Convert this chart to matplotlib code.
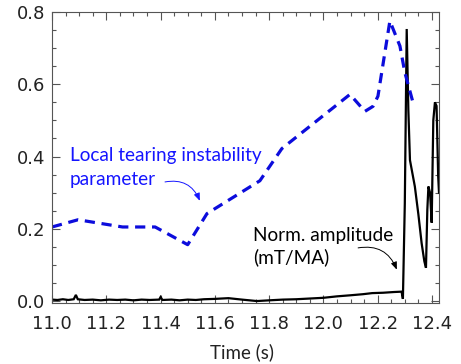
import matplotlib
matplotlib.use("Agg")
import matplotlib.pyplot as plt
from matplotlib.ticker import MultipleLocator

# Local tearing instability parameter (blue dashed)
tear_t = [11.00, 11.096, 11.26, 11.38, 11.50, 11.571, 11.766, 11.847, 12.098,
          12.153, 12.183, 12.201, 12.245, 12.282, 12.30, 12.33]
tear_v = [0.205, 0.225, 0.205, 0.205, 0.156, 0.242, 0.333, 0.422, 0.572,
          0.525, 0.539, 0.567, 0.775, 0.706, 0.633, 0.55]

# Normalised mode amplitude (black trace)
amp_t = [11.00, 11.02, 11.04, 11.06, 11.08, 11.088, 11.095, 11.12, 11.15, 11.18,
         11.21, 11.24, 11.27, 11.30, 11.33, 11.36, 11.395, 11.40, 11.407, 11.44,
         11.47, 11.50, 11.53, 11.56, 11.60, 11.65, 11.70, 11.755, 11.80, 11.85,
         11.90, 11.95, 12.00, 12.05, 12.10, 12.146, 12.18, 12.22, 12.26, 12.288,
         12.293, 12.30, 12.307, 12.313, 12.319, 12.337, 12.35, 12.362, 12.372, 12.378,
         12.383, 12.387, 12.393, 12.399, 12.405, 12.411, 12.417, 12.423, 12.426]
amp_v = [0.004, 0.003, 0.005, 0.003, 0.005, 0.017, 0.005, 0.003, 0.004, 0.002,
         0.004, 0.003, 0.004, 0.002, 0.004, 0.003, 0.004, 0.011, 0.003, 0.004,
         0.002, 0.004, 0.003, 0.005, 0.006, 0.008, 0.004, 0.000, 0.002, 0.004,
         0.005, 0.007, 0.009, 0.013, 0.016, 0.019, 0.022, 0.023, 0.025, 0.026,
         0.006, 0.27, 0.753, 0.53, 0.39, 0.317, 0.24, 0.16, 0.11, 0.092,
         0.253, 0.317, 0.30, 0.217, 0.50, 0.55, 0.54, 0.345, 0.30]

x_major = [11.0, 11.2, 11.4, 11.6, 11.8, 12.0, 12.2, 12.4]
y_major = [0.0, 0.2, 0.4, 0.6, 0.8]

text_font = "Lato"
tick_font = "DejaVu Sans"

fig = plt.figure(figsize=(4.61, 3.64), dpi=100)
ax = fig.add_axes([52 / 461, 1 - 302.5 / 364, 387 / 461, 290.5 / 364])

ax.plot(amp_t, amp_v, color="black", lw=1.6, solid_joinstyle="miter")
ax.plot(tear_t, tear_v, color="#0c0cdc", lw=2.3, dashes=(3.2, 2.1))

ax.set_xlim(11.0, 12.426)
ax.set_ylim(-0.004, 0.8)
ax.set_xticks(x_major)
ax.set_yticks(y_major)
ax.set_xticklabels([f"{v:.1f}" for v in x_major], fontfamily=tick_font)
ax.set_yticklabels([f"{v:.1f}" for v in y_major], fontfamily=tick_font)
ax.xaxis.set_minor_locator(MultipleLocator(0.05))
ax.yaxis.set_minor_locator(MultipleLocator(0.05))

ax.tick_params(which="both", direction="in", top=True, right=True,
               color="#555555", width=0.8)
ax.tick_params(which="major", length=5.5, labelsize=13, labelcolor="#222222")
ax.tick_params(which="minor", length=3)
ax.tick_params(axis="x", which="major", pad=9)
ax.tick_params(axis="y", which="major", pad=5)
for sp in ax.spines.values():
    sp.set_color("#555555")
    sp.set_linewidth(0.8)

ax.set_xlabel("Time (s)", fontfamily=text_font, fontsize=13.5, color="#222222")
ax.xaxis.set_label_coords(0.491, -0.14)

# blue annotation
ax.text(0.0465, 0.487, "Local tearing instability", transform=ax.transAxes,
        ha="left", va="baseline", fontfamily=text_font, fontsize=13.7, color="#1515ff")
ax.text(0.0465, 0.404, "parameter", transform=ax.transAxes,
        ha="left", va="baseline", fontfamily=text_font, fontsize=13.7, color="#1515ff")
ax.annotate("", xy=(0.382, 0.350), xytext=(0.292, 0.415),
            xycoords="axes fraction", textcoords="axes fraction",
            arrowprops=dict(arrowstyle="-|>,head_length=0.45,head_width=0.18",
                            color="#1515ff", lw=0.7,
                            connectionstyle="arc3,rad=-0.4", shrinkA=0, shrinkB=0))

# black annotation
ax.text(0.519, 0.212, "Norm. amplitude", transform=ax.transAxes,
        ha="left", va="baseline", fontfamily=text_font, fontsize=13.7, color="black")
ax.text(0.519, 0.136, "(mT/MA)", transform=ax.transAxes,
        ha="left", va="baseline", fontfamily=text_font, fontsize=13.7, color="black")
ax.annotate("", xy=(0.891, 0.113), xytext=(0.791, 0.188),
            xycoords="axes fraction", textcoords="axes fraction",
            arrowprops=dict(arrowstyle="-|>,head_length=0.45,head_width=0.18",
                            color="black", lw=0.7,
                            connectionstyle="arc3,rad=-0.4", shrinkA=0, shrinkB=0))

fig.savefig("out.png", dpi=100)
